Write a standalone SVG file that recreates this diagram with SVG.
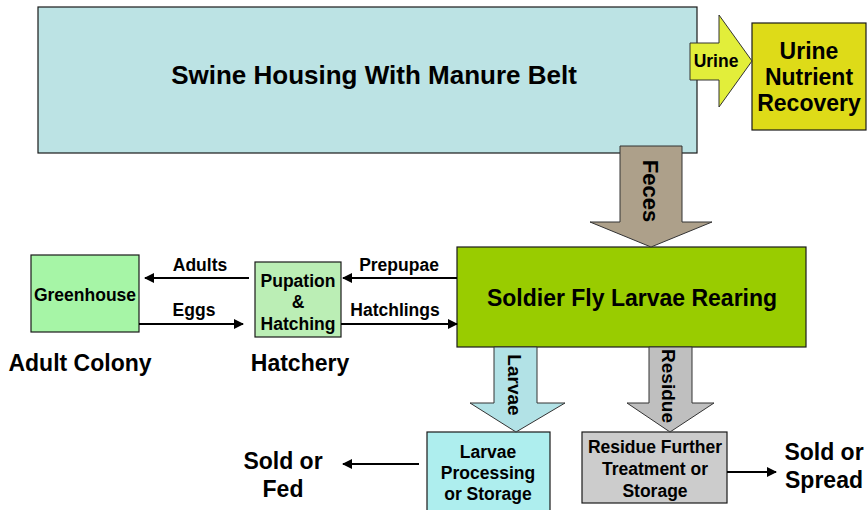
<svg xmlns="http://www.w3.org/2000/svg" width="867" height="510" viewBox="0 0 867 510">
  <style>
    text { font-family: "Liberation Sans", Arial, sans-serif; font-weight: bold; fill: #000; text-anchor: middle; }
    .box { stroke: #1a1a1a; stroke-width: 1.2; }
    .block { stroke: #333; stroke-width: 1; }
    .link { stroke: #000; stroke-width: 2; fill: none; marker-end: url(#head); }
    .lbl { font-size: 17.5px; }
    .cap { font-size: 23px; }
    .inner { font-size: 17.5px; }
  </style>
  <defs>
    <marker id="head" viewBox="0 0 10 10" refX="9" refY="5" markerWidth="5" markerHeight="5" orient="auto" markerUnits="strokeWidth">
      <path d="M0,0 L10,5 L0,10 Z" fill="#000"/>
    </marker>
  </defs>

  <rect width="867" height="510" fill="#fff"/>

  <g id="swine-housing">
    <rect class="box" x="38" y="7" width="659" height="146" fill="#BCE3E4"/>
    <text x="374" y="84" font-size="26">Swine Housing With Manure Belt</text>
  </g>

  <g id="urine-recovery">
    <rect class="box" x="752" y="23" width="114" height="107" fill="#DEDB18"/>
    <text x="809" y="59" font-size="23">Urine</text>
    <text x="809" y="85" font-size="23">Nutrient</text>
    <text x="809" y="111" font-size="23">Recovery</text>
  </g>

  <g id="soldier-fly-rearing">
    <rect class="box" x="457" y="247" width="349" height="100" fill="#99CC00"/>
    <text x="632" y="306" font-size="23">Soldier Fly Larvae Rearing</text>
  </g>

  <g id="greenhouse">
    <rect class="box" x="31" y="255" width="108" height="77" fill="#A6F5A6"/>
    <text x="85" y="301" font-size="17.5">Greenhouse</text>
  </g>

  <g id="pupation-hatching">
    <rect class="box" x="255" y="262" width="86" height="75" fill="#BBEEB5"/>
    <text class="inner" x="298" y="287">Pupation</text>
    <text class="inner" x="298" y="308">&amp;</text>
    <text class="inner" x="298" y="330">Hatching</text>
  </g>

  <g id="larvae-processing">
    <rect class="box" x="427" y="432" width="123" height="82" fill="#AEEEEE"/>
    <text class="inner" x="488" y="458">Larvae</text>
    <text class="inner" x="488" y="479">Processing</text>
    <text class="inner" x="488" y="500">or Storage</text>
  </g>

  <g id="residue-treatment">
    <rect class="box" x="582" y="432" width="145" height="71" fill="#CCCCCC"/>
    <text class="inner" x="655" y="453">Residue Further</text>
    <text class="inner" x="655" y="475">Treatment or</text>
    <text class="inner" x="655" y="497">Storage</text>
  </g>

  <g id="captions">
    <text class="cap" x="80" y="371">Adult Colony</text>
    <text class="cap" x="300" y="371">Hatchery</text>
    <text class="cap" x="283" y="469">Sold or</text>
    <text class="cap" x="283" y="497">Fed</text>
    <text class="cap" x="824" y="460">Sold or</text>
    <text class="cap" x="824" y="488">Spread</text>
  </g>

  <g id="connectors">
    <!-- block arrows -->
    <path class="block" d="M690,43 L719,43 L719,15 L752,61 L719,107 L719,80 L690,80 Z" fill="#E2EE3A"/>
    <text x="716" y="67" font-size="17.5">Urine</text>

    <path class="block" d="M620,146 L682,146 L682,222 L712,222 L651,247 L590,222 L620,222 Z" fill="#ADA08A"/>
    <text transform="translate(651,191) rotate(90)" y="8" font-size="22">Feces</text>

    <path class="block" d="M494,347 L537,347 L537,403 L565,403 L516,432 L470,403 L494,403 Z" fill="#B2E2E6"/>
    <text transform="translate(515,385) rotate(90)" y="7" font-size="19">Larvae</text>

    <path class="block" d="M649,347 L692,347 L692,403 L714,403 L670,432 L627,403 L649,403 Z" fill="#BFBFBF"/>
    <text transform="translate(669,386) rotate(90)" y="7" font-size="19">Residue</text>

    <!-- line arrows -->
    <line class="link" x1="249" y1="278" x2="145" y2="278"/>
    <text class="lbl" x="200" y="271">Adults</text>

    <line class="link" x1="139" y1="324" x2="243" y2="324"/>
    <text class="lbl" x="194" y="316">Eggs</text>

    <line class="link" x1="457" y1="278" x2="343" y2="278"/>
    <text class="lbl" x="399" y="271">Prepupae</text>

    <line class="link" x1="341" y1="324" x2="457" y2="324"/>
    <text class="lbl" x="395" y="316">Hatchlings</text>

    <line class="link" x1="419" y1="464" x2="343" y2="464"/>
    <line class="link" x1="727" y1="472" x2="776" y2="472"/>
  </g>
</svg>
